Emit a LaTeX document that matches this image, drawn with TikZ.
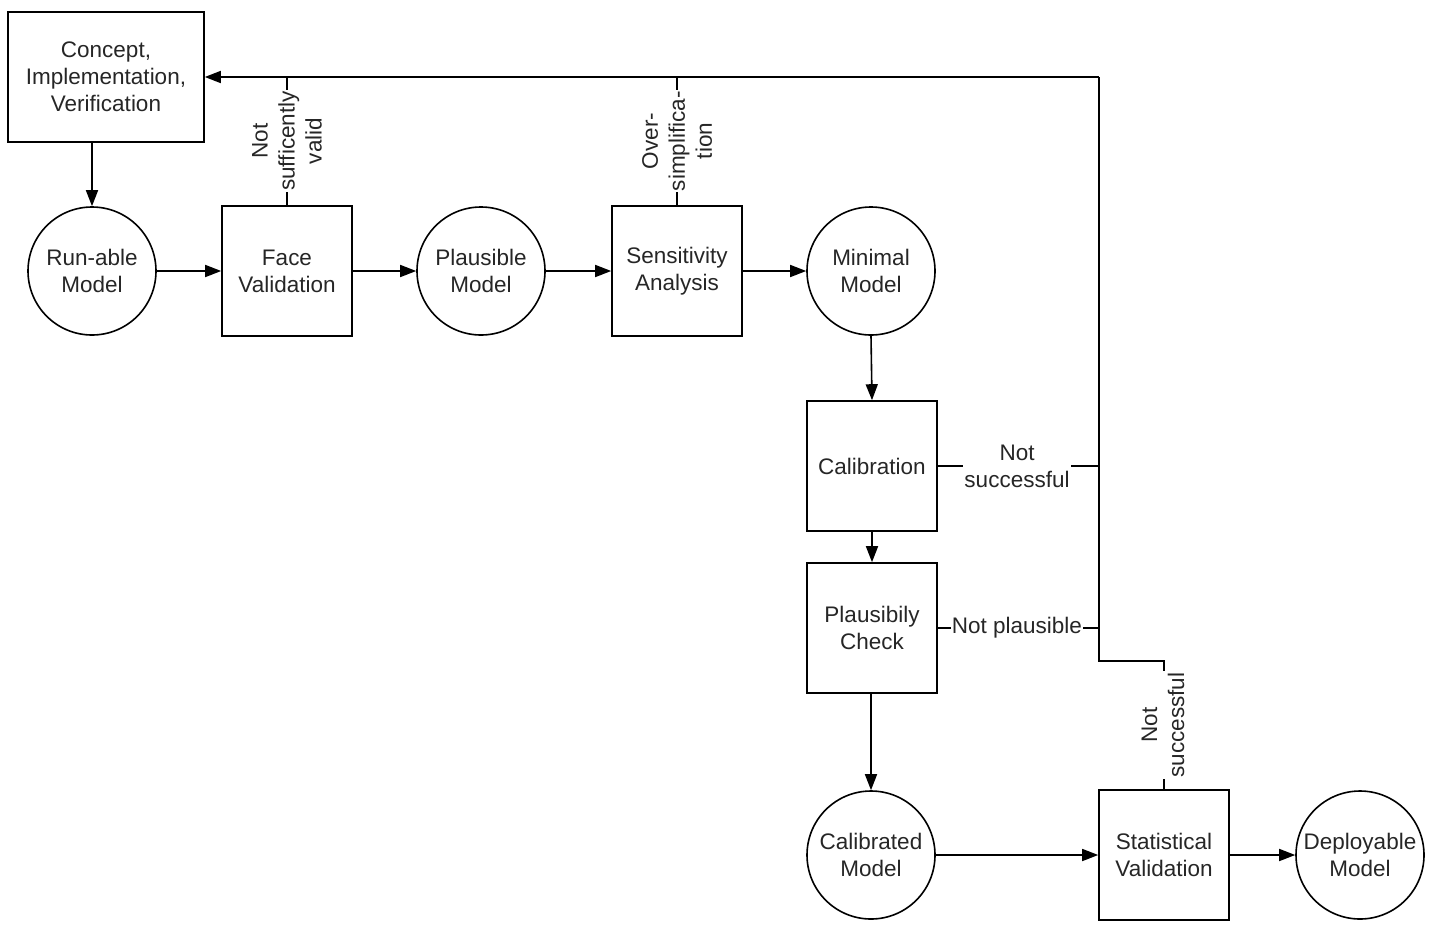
\documentclass[tikz,border=0pt]{standalone}
\usepackage{fontspec}
\setmainfont{Liberation Sans}
\usetikzlibrary{arrows.meta}
\begin{document}
\begin{tikzpicture}[x=1pt,y=-1pt,
  every node/.style={font=\fontsize{22.5}{27}\selectfont, align=center, text=black!85},
  boxnode/.style={draw, line width=1.6pt, minimum width=130pt, minimum height=130pt, inner sep=0pt},
  circnode/.style={draw, circle, line width=1.6pt, minimum size=128pt, inner sep=0pt},
  flow/.style={line width=1.6pt, -{Triangle[length=16pt,width=12pt]}},
  back/.style={line width=1.6pt},
  lbl/.style={fill=white, inner sep=1pt}]
\useasboundingbox (0,0) rectangle (1435,927);
\node[boxnode, minimum width=196pt] (concept) at (106,77) {Concept,\\Implementation,\\Verification};
\node[circnode] (runable) at (92,271) {Run-able\\Model};
\node[boxnode] (face) at (287,271) {Face\\Validation};
\node[circnode] (plausible) at (481,271) {Plausible\\Model};
\node[boxnode] (sens) at (677,271) {Sensitivity\\Analysis};
\node[circnode] (minimal) at (871,271) {Minimal\\Model};
\node[boxnode] (calib) at (872,466) {Calibration};
\node[boxnode] (check) at (872,628) {Plausibily\\Check};
\node[circnode] (calibrated) at (871,855) {Calibrated\\Model};
\node[boxnode] (stat) at (1164,855) {Statistical\\Validation};
\node[circnode] (deploy) at (1360,855) {Deployable\\Model};

\coordinate (topright) at (1099,77);
\coordinate (jcal) at (1099,466);
\coordinate (jchk) at (1099,628);
\coordinate (jlow) at (1099,661);
\coordinate (jstat) at (1164,661);
\coordinate (tface) at (287,77);
\coordinate (tsens) at (677,77);

% main flow
\draw[flow] (concept.south -| runable.north) -- (runable.north);
\draw[flow] (runable) -- (face);
\draw[flow] (face.east) -- (plausible.west);
\draw[flow] (plausible) -- (sens);
\draw[flow] (sens) -- (minimal);
\draw[flow] (minimal.south) -- (calib.north);
\draw[flow] (calib) -- (check);
\draw[flow] (check.south -| calibrated.north) -- (calibrated.north);
\draw[flow] (calibrated) -- (stat);
\draw[flow] (stat) -- (deploy);

% feedback
\draw[flow] (topright) -- (concept.east);
\draw[back] (stat.north) -- (jstat) -- (jlow) -- (topright);
\draw[back] (face.north) -- (tface);
\draw[back] (sens.north) -- (tsens);
\draw[back] (calib.east) -- (jcal);
\draw[back] (check.east) -- (jchk);

% labels
\node[lbl, rotate=90] (l1) at (287,141) {Not\\sufficently\\valid};
\node[lbl, rotate=90] (l2) at (677,141) {Over-\\simplifica-\\tion};
\node[lbl] (l3) at (1017,466) {Not\\successful};
\node[lbl] (l4) at (1017,628) {Not plausible};
\node[lbl, rotate=90] (l5) at (1163,725) {Not\\successful};
\end{tikzpicture}
\end{document}
